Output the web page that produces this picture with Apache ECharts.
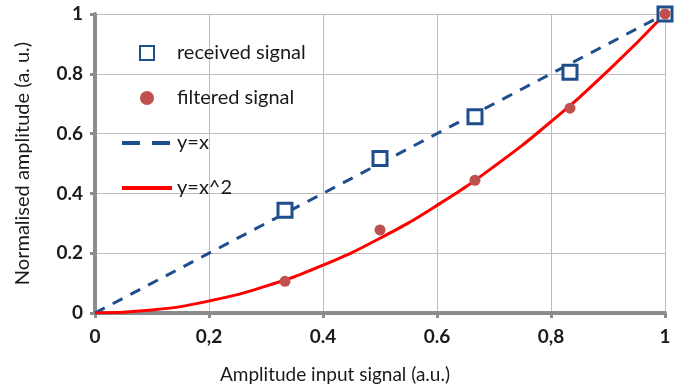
<!DOCTYPE html>
<html>
<head>
<meta charset="utf-8">
<script src="https://cdn.jsdelivr.net/npm/echarts@6/dist/echarts.min.js"></script>
<style>
  html, body { margin: 0; padding: 0; background: #fff; }
  #chart { width: 691px; height: 389px; }
</style>
</head>
<body>
<div id="chart"></div>
<script>
// input amplitudes of the measured points
const inputAmp = [1 / 3, 1 / 2, 2 / 3, 5 / 6, 1];
const receivedSignal = [0.344, 0.517, 0.656, 0.805, 1.0];
const filteredSignal = [0.106, 0.278, 0.444, 0.685, 1.0];

// reference curves
const lineX = [0, 1];
const lineY = [0, 1];
const curveX = [0, 0.1, 0.2, 0.3, 0.4, 0.5, 0.6, 0.7, 0.8, 0.9, 1];
const curveY = [0, 0.01, 0.04, 0.09, 0.16, 0.25, 0.36, 0.49, 0.64, 0.81, 1];

const xTickLabels = ['0', '0,2', '0.4', '0.6', '0,8', '1'];
const yTickLabels = ['0', '0.2', '0.4', '0.6', '0.8', '1'];

const pairs = (xs, ys) => xs.map((x, i) => [x, ys[i]]);

const chart = echarts.init(document.getElementById('chart'));
const font = 'Lato, "Noto Sans", sans-serif';

chart.setOption({
  animation: false,
  textStyle: { fontFamily: font },
  grid: { left: 95, right: 26, top: 14, bottom: 73 },
  legend: {
    orient: 'vertical',
    left: 115,
    top: 38,
    itemWidth: 50,
    itemHeight: 14,
    itemGap: 25,
    textStyle: { fontSize: 20, color: '#1a1a1a', fontFamily: font },
    data: [
      { name: 'received signal', icon: 'path://M0,0L10,0L10,10L0,10Z' },
      { name: 'filtered signal' },
      { name: 'y=x', itemStyle: { opacity: 0 }, lineStyle: { width: 4, type: [18, 12] } },
      { name: 'y=x^2', itemStyle: { opacity: 0 }, lineStyle: { width: 4 } },
    ],
  },
  xAxis: {
    type: 'value',
    min: 0,
    max: 1,
    interval: 0.2,
    name: 'Amplitude input signal (a.u.)',
    nameLocation: 'middle',
    nameGap: 52,
    nameTextStyle: { fontSize: 19, color: '#1a1a1a', fontFamily: font, padding: [0, 90, 0, 0] },
    axisLine: { show: true, lineStyle: { color: '#8c8c8c', width: 4 } },
    axisTick: { show: true, length: 5, lineStyle: { color: '#8c8c8c', width: 3 } },
    axisLabel: {
      margin: 14,
      fontSize: 19,
      fontWeight: 'bold',
      color: '#1a1a1a',
      formatter: (v) => xTickLabels[Math.round(v * 5)],
    },
    splitLine: { show: true, lineStyle: { color: '#bdbdbd', width: 1 } },
  },
  yAxis: {
    type: 'value',
    min: 0,
    max: 1,
    interval: 0.2,
    name: 'Normalised amplitude (a. u.)',
    nameLocation: 'middle',
    nameGap: 62,
    nameTextStyle: { fontSize: 20, color: '#1a1a1a', fontFamily: font },
    axisLine: { show: true, lineStyle: { color: '#8c8c8c', width: 4 } },
    axisTick: { show: true, length: 5, lineStyle: { color: '#8c8c8c', width: 3 } },
    axisLabel: {
      margin: 12,
      fontSize: 19,
      fontWeight: 'bold',
      color: '#1a1a1a',
      formatter: (v) => yTickLabels[Math.round(v * 5)],
    },
    splitLine: { show: true, lineStyle: { color: '#bdbdbd', width: 1 } },
  },
  series: [
    {
      name: 'y=x',
      type: 'line',
      symbol: 'none',
      z: 2,
      lineStyle: { color: '#1f4e8c', width: 3, type: [11, 9] },
      itemStyle: { color: '#1f4e8c' },
      data: pairs(lineX, lineY),
    },
    {
      name: 'y=x^2',
      type: 'line',
      symbol: 'none',
      smooth: true,
      z: 3,
      lineStyle: { color: '#ff0000', width: 3 },
      itemStyle: { color: '#ff0000' },
      data: pairs(curveX, curveY),
    },
    {
      name: 'received signal',
      type: 'scatter',
      symbol: 'rect',
      symbolSize: 14,
      z: 4,
      itemStyle: { color: '#ffffff', borderColor: '#1f4e8c', borderWidth: 3, opacity: 1 },
      data: pairs(inputAmp, receivedSignal),
    },
    {
      name: 'filtered signal',
      type: 'scatter',
      symbol: 'circle',
      symbolSize: 11,
      z: 5,
      itemStyle: { color: '#c0504d', opacity: 1 },
      data: pairs(inputAmp, filteredSignal),
    },
  ],
});
</script>
</body>
</html>
